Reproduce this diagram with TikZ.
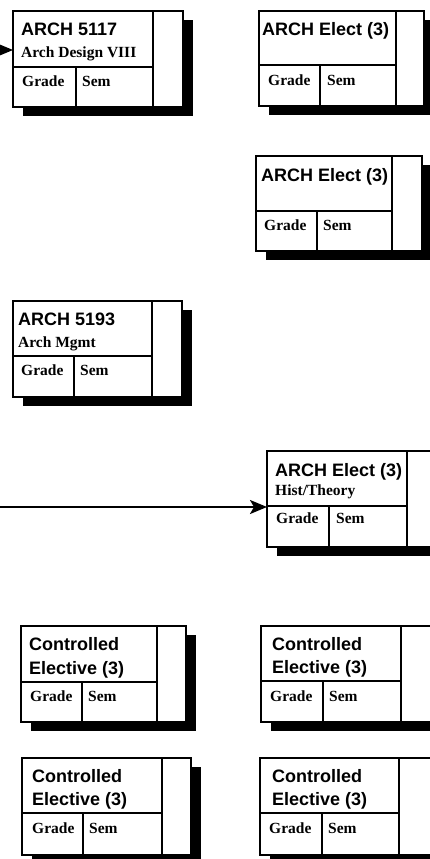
\documentclass[tikz,border=0pt]{standalone}
\usepackage{fontspec}
\setmainfont{Liberation Serif}
\newfontfamily\hsans{Liberation Sans}
\usetikzlibrary{arrows.meta}
\tikzset{
  boxline/.style={line width=2.2pt, draw=black},
  shadowfill/.style={fill=black},
  title/.style={anchor=base west, inner sep=0pt, font=\hsans\bfseries\fontsize{18}{22}\selectfont},
  sub/.style={anchor=base west, inner sep=0pt, font=\bfseries\fontsize{15.5}{18}\selectfont},
  cell/.style={anchor=base west, inner sep=0pt, font=\bfseries\fontsize{15.5}{18}\selectfont},
  flow/.style={line width=2.2pt, -{Stealth[length=17pt,width=14pt,inset=4pt]}}
}
% #1 name, #2 L, #3 T, #4 divider x, #5 R, #6 horizontal divider y, #7 grade/sem x, #8 bottom
\newcommand\coursebox[8]{%
  \fill[shadowfill] (#2+10,#3+9) rectangle (#5+10,#8+9);
  \draw[boxline, fill=white] (#2,#3) rectangle (#5,#8);
  \draw[boxline] (#4,#3) -- (#4,#8);
  \draw[boxline] (#2,#6) -- (#4,#6);
  \draw[boxline] (#7,#6) -- (#7,#8);
  \coordinate (#1) at (#2,#3);
}
\begin{document}
\begin{tikzpicture}[x=1pt,y=-1pt]
\clip (0,0) rectangle (430,859);
\fill[white] (0,0) rectangle (430,859);

% Box 1
\coursebox{b1}{13}{11}{153}{183}{67}{76}{107}
\node[title] (b1t) at (21,36) {ARCH 5117};
\node[sub] (b1s) at (21,57) {Arch Design VIII};
\node[cell] (b1g) at (22,86) {Grade};
\node[cell] (b1m) at (82,86) {Sem};

% Box 2
\coursebox{b2}{259}{11}{396}{424}{65}{320}{106}
\node[title] (b2t) at (262,36) {ARCH Elect (3)};
\node[cell] (b2g) at (268,85) {Grade};
\node[cell] (b2m) at (327,85) {Sem};

% Box 3
\coursebox{b3}{256}{156}{392}{422}{211}{317}{251}
\node[title] (b3t) at (261,181) {ARCH Elect (3)};
\node[cell] (b3g) at (264,230) {Grade};
\node[cell] (b3m) at (323,230) {Sem};

% Box 4
\coursebox{b4}{13}{301}{152}{182}{356}{74}{397}
\node[title] (b4t) at (18,325) {ARCH 5193};
\node[sub] (b4s) at (18,347) {Arch Mgmt};
\node[cell] (b4g) at (21,375) {Grade};
\node[cell] (b4m) at (80,375) {Sem};

% Box 5
\coursebox{b5}{267}{451}{407}{460}{506}{329}{547}
\node[title] (b5t) at (275,476) {ARCH Elect (3)};
\node[sub] (b5s) at (275,495) {Hist/Theory};
\node[cell] (b5g) at (276,523) {Grade};
\node[cell] (b5m) at (336,523) {Sem};

% Box 6
\coursebox{b6}{21}{626}{157}{186}{682}{82}{722}
\node[title] (b6t) at (29,650) {Controlled};
\node[title] (b6u) at (29,674) {Elective (3)};
\node[cell] (b6g) at (30,701) {Grade};
\node[cell] (b6m) at (88,701) {Sem};

% Box 7
\coursebox{b7}{261}{626}{401}{460}{681}{323}{722}
\node[title] (b7t) at (272,650) {Controlled};
\node[title] (b7u) at (272,673) {Elective (3)};
\node[cell] (b7g) at (270,701) {Grade};
\node[cell] (b7m) at (329,701) {Sem};

% Box 8
\coursebox{b8}{22}{758}{162}{191}{813}{83}{855}
\node[title] (b8t) at (32,782) {Controlled};
\node[title] (b8u) at (32,805) {Elective (3)};
\node[cell] (b8g) at (32,833) {Grade};
\node[cell] (b8m) at (89,833) {Sem};

% Box 9
\coursebox{b9}{260}{758}{399}{460}{813}{322}{855}
\node[title] (b9t) at (272,782) {Controlled};
\node[title] (b9u) at (272,805) {Elective (3)};
\node[cell] (b9g) at (269,833) {Grade};
\node[cell] (b9m) at (328,833) {Sem};

% Connectors
\coordinate (a1s) at (-20,50);
\coordinate (a1e) at (13,50);
\draw[flow] (a1s) -- (a1e);
\coordinate (a2s) at (-5,507);
\coordinate (a2e) at (267,507);
\draw[flow] (a2s) -- (a2e);
\end{tikzpicture}
\end{document}
